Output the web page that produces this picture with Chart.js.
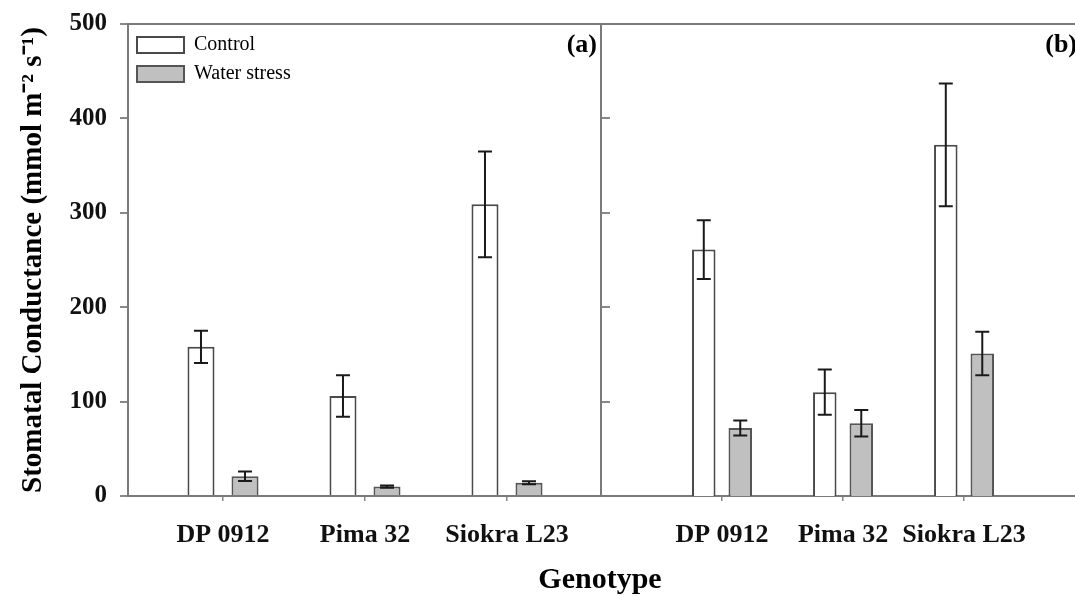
<!DOCTYPE html>
<html>
<head>
<meta charset="utf-8">
<script src="https://cdn.jsdelivr.net/npm/chart.js@4.4.1/dist/chart.umd.min.js"></script>
<style>
html,body{margin:0;padding:0;background:#fff;}
#wrap{position:relative;width:1075px;height:596px;overflow:hidden;background:#fff;}
#cA{position:absolute;left:0;top:0;}
#cB{position:absolute;left:601px;top:0;}
#xt{position:absolute;left:0;top:563px;width:1200px;text-align:center;font:bold 30px 'Liberation Serif',serif;line-height:30px;color:#000;}
</style>
</head>
<body>
<div id="wrap">
  <canvas id="cA" width="610" height="596"></canvas>
  <canvas id="cB" width="474" height="596"></canvas>
  <div id="xt">Genotype</div>
</div>
<script>
// ---- data ----
const genotypes = ['DP 0912', 'Pima 32', 'Siokra L23'];
const seriesNames = ['Control', 'Water stress'];
const positions = [1, 2, 3];
const yTicks = [0, 100, 200, 300, 400, 500];

const panelA_control    = [158, 106, 309];
const panelA_controlErr = [17, 22, 56];
const panelA_stress     = [21, 10, 14];
const panelA_stressErr  = [5, 1.2, 1.5];

const panelB_control    = [261, 110, 372];
const panelB_controlErr = [31, 24, 65];
const panelB_stress     = [72, 77, 151];
const panelB_stressErr  = [8, 14, 23];

const FONT = 'Liberation Serif';
const AXIS = '#7a7a7a';

function pts(vals) { return vals.map((v, i) => ({ x: positions[i], y: v })); }

function datasets(ctrl, ctrlErr, ws, wsErr, cp, bp) {
  return [
    { label: seriesNames[0], data: pts(ctrl), errors: ctrlErr,
      backgroundColor: '#ffffff', borderColor: '#4a4a4a', borderWidth: 2,
      categoryPercentage: cp, barPercentage: bp },
    { label: seriesNames[1], data: pts(ws), errors: wsErr,
      backgroundColor: '#c0c0c0', borderColor: '#555555', borderWidth: 2,
      categoryPercentage: cp, barPercentage: bp }
  ];
}

const errorBars = {
  id: 'errorBars',
  afterDatasetsDraw(chart) {
    const ctx = chart.ctx, ys = chart.scales.y;
    chart.data.datasets.forEach((ds, i) => {
      const meta = chart.getDatasetMeta(i);
      meta.data.forEach((bar, j) => {
        const v = ds.data[j].y, e = ds.errors[j];
        const yt = ys.getPixelForValue(v + e), yb = ys.getPixelForValue(v - e);
        ctx.save();
        ctx.strokeStyle = '#1a1a1a';
        ctx.lineWidth = 2;
        ctx.beginPath();
        ctx.moveTo(bar.x, yt); ctx.lineTo(bar.x, yb);
        ctx.moveTo(bar.x - 7, yt); ctx.lineTo(bar.x + 7, yt);
        ctx.moveTo(bar.x - 7, yb); ctx.lineTo(bar.x + 7, yb);
        ctx.stroke();
        ctx.restore();
      });
    });
  }
};

const panelLabel = {
  id: 'panelLabel',
  afterDraw(chart, args, opts) {
    const { ctx, chartArea } = chart;
    ctx.save();
    ctx.font = 'bold 26px "' + FONT + '"';
    ctx.fillStyle = '#000';
    ctx.textAlign = 'right';
    ctx.textBaseline = 'middle';
    ctx.fillText(opts.text, chartArea.right + opts.dx, chartArea.top + 21);
    ctx.restore();
  }
};

function xScale(min, max) {
  return {
    type: 'linear', position: 'bottom', min: min, max: max, offset: false,
    afterBuildTicks: s => { s.ticks = positions.map(v => ({ value: v })); },
    afterFit: s => { s.height = 100; s.paddingLeft = 0; s.paddingRight = 0; },
    ticks: { autoSkip: false, maxRotation: 0, minRotation: 0, padding: 19, color: '#111',
      font: { family: FONT, size: 26, weight: 'bold' },
      callback: (v, i) => genotypes[i] },
    grid: { offset: false, drawOnChartArea: false, drawTicks: true, tickLength: 5, color: '#888', lineWidth: 1.5 },
    border: { display: true, color: AXIS, width: 2 }
  };
}
function topScale() {
  return {
    type: 'linear', position: 'top', min: 0, max: 1, offset: false,
    afterBuildTicks: s => { s.ticks = [{ value: 0 }]; },
    afterFit: s => { s.height = 0; s.paddingLeft = 0; s.paddingRight = 0; },
    ticks: { display: false },
    grid: { display: false },
    border: { display: true, color: AXIS, width: 2 }
  };
}
function yValueScale(extra) {
  return Object.assign({
    type: 'linear', min: 0, max: 500,
    afterBuildTicks: s => { s.ticks = yTicks.map(v => ({ value: v })); }
  }, extra);
}

const common = {
  responsive: false, animation: false, devicePixelRatio: 1,
  layout: { padding: { top: 24, left: 0, right: 0, bottom: 0 } }
};

new Chart(document.getElementById('cA'), {
  type: 'bar',
  data: { datasets: datasets(panelA_control, panelA_controlErr, panelA_stress, panelA_stressErr, 0.62, 0.614) },
  options: Object.assign({}, common, {
    scales: {
      x: xScale(0.331, 3.662),
      xt: topScale(),
      y: yValueScale({
        position: 'left',
        afterFit: s => { s.width = 128; s.paddingTop = 0; s.paddingBottom = 0; },
        ticks: { padding: 13, color: '#111', font: { family: FONT, size: 25, weight: 'bold' } },
        grid: { drawOnChartArea: false, tickLength: 8, color: '#888', lineWidth: 2 },
        border: { color: AXIS, width: 2 },
        title: { display: true, text: 'Stomatal Conductance (mmol m\u207B\u00B2 s\u207B\u00B9)', color: '#000',
          font: { family: FONT, size: 29, weight: 'bold' }, padding: { top: 16, bottom: 0 } }
      }),
      yr: yValueScale({
        position: 'right',
        afterFit: s => { s.width = 9; s.paddingTop = 0; s.paddingBottom = 0; },
        ticks: { display: false },
        grid: { drawOnChartArea: false, tickLength: 9, color: '#888', lineWidth: 2 },
        border: { color: AXIS, width: 2 }
      })
    },
    plugins: {
      legend: { position: 'chartArea', align: 'start',
        title: { display: true, text: ' ', font: { size: 10, lineHeight: 1 }, padding: { top: 16, bottom: 0 } },
        labels: { boxWidth: 47, boxHeight: 16, padding: 9, color: '#000', font: { family: FONT, size: 20 } } },
      tooltip: { enabled: false },
      panelLabel: { text: '(a)', dx: -4 }
    }
  }),
  plugins: [errorBars, panelLabel]
});

new Chart(document.getElementById('cB'), {
  type: 'bar',
  data: { datasets: datasets(panelB_control, panelB_controlErr, panelB_stress, panelB_stressErr, 0.603, 0.644) },
  options: Object.assign({}, common, {
    scales: {
      x: xScale(0, 3.917),
      xt: topScale(),
      y: yValueScale({ display: false })
    },
    plugins: {
      legend: { display: false },
      tooltip: { enabled: false },
      panelLabel: { text: '(b)', dx: 2 }
    }
  }),
  plugins: [errorBars, panelLabel]
});
</script>
</body>
</html>
